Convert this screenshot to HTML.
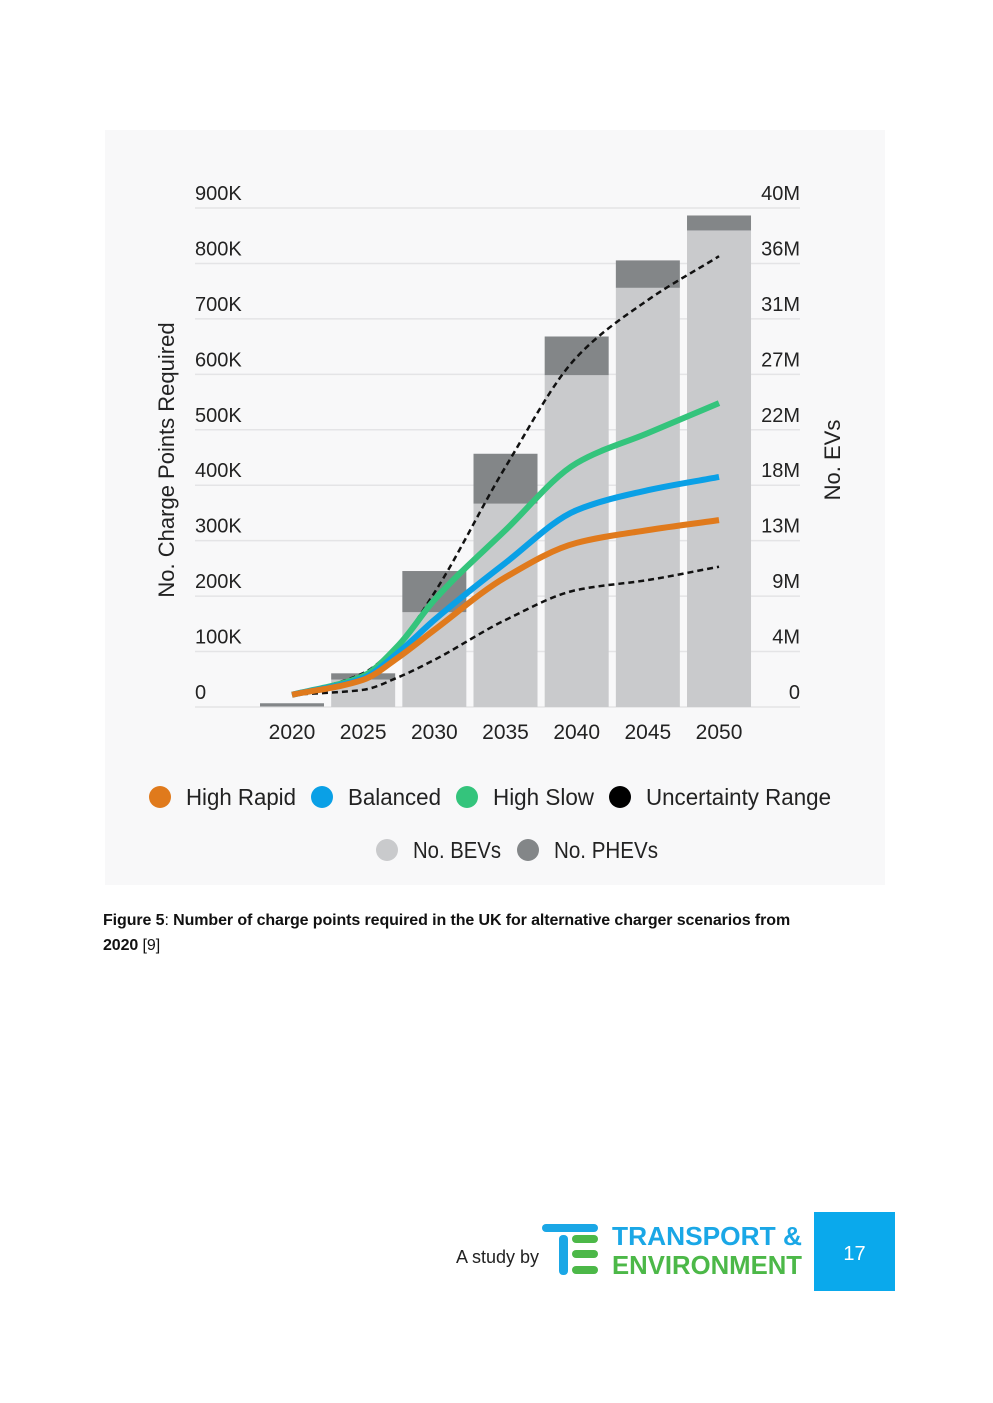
<!DOCTYPE html>
<html><head><meta charset="utf-8"><style>
body{margin:0;background:#fff;font-family:"Liberation Sans",sans-serif;}
#page{position:relative;width:993px;height:1403px;overflow:hidden;background:#fff;}
.cap{position:absolute;left:103px;top:908px;font-size:16px;line-height:25px;color:#111;width:725px;letter-spacing:-0.1px;}
</style></head><body>
<div id="page">
<svg id="chart" width="993" height="900" style="position:absolute;left:0;top:0" font-family="Liberation Sans, sans-serif"></svg>
<div class="cap"><b>Figure 5</b>: <b>Number of charge points required in the UK for alternative charger scenarios from 2020</b> [9]</div>
<div style="position:absolute;left:456px;top:1247px;font-size:18px;color:#222">A study by</div>
<svg style="position:absolute;left:540px;top:1218px" width="270" height="64">
<rect x="2" y="6" width="56" height="8" rx="4" fill="#1aa7e6"/>
<rect x="19" y="17" width="9" height="40" rx="4" fill="#1aa7e6"/>
<rect x="32" y="17" width="26" height="8" rx="4" fill="#4cb848"/>
<rect x="32" y="32" width="26" height="8" rx="4" fill="#4cb848"/>
<rect x="32" y="48" width="26" height="8" rx="4" fill="#4cb848"/>
<text x="72" y="27" font-size="26" font-weight="bold" fill="#1aa7e6" font-family="Liberation Sans, sans-serif" textLength="190" lengthAdjust="spacingAndGlyphs">TRANSPORT &amp;</text>
<text x="72" y="56" font-size="26" font-weight="bold" fill="#4cb848" font-family="Liberation Sans, sans-serif" textLength="190" lengthAdjust="spacingAndGlyphs">ENVIRONMENT</text>
</svg>
<div style="position:absolute;left:814px;top:1212px;width:81px;height:79px;background:#0aa9ec;color:#fff;font-size:20px;text-align:center;line-height:84px">17</div>
</div>
<script>
const years=[2020,2025,2030,2035,2040,2045,2050];
const bevs=[0.05,2.2,7.6,16.3,26.6,33.6,38.2];
const phevs=[0.25,0.5,3.3,4.0,3.1,2.2,1.2];
const lineYears=[2020,2025,2027.5,2030,2035,2040,2045,2050];
const highRapid=[22,49,90,139,234,296,319,337];
const balanced=[22,52,99,157,260,355,391,415];
const highSlow=[22,56,112,193,319,440,494,548];
const upperRange=[22,61,115,206,433,631,734,813];
const lowerRange=[22,31,54,85,157,211,229,253];
const leftTicks=["0","100K","200K","300K","400K","500K","600K","700K","800K","900K"];
const rightTicks=["0","4M","9M","13M","18M","22M","27M","31M","36M","40M"];
const NS="http://www.w3.org/2000/svg";
const svg=document.getElementById('chart');
function mk(t,a,p){const e=document.createElementNS(NS,t);for(const k in a)e.setAttribute(k,a[k]);(p||svg).appendChild(e);return e;}
const y0=707,y1=208;
const yL=v=>y0-(v/900)*(y0-y1);
const yR=v=>y0-(v/40)*(y0-y1);
const xC=yr=>292+(yr-2020)/5*71.17;
const bg=mk('rect',{x:105,y:130,width:780,height:755,fill:'#f8f8f9'});

leftTicks.forEach((t,i)=>{const y=y0-i*(y0-y1)/9;
 const g=mk('line',{x1:195,x2:800,y1:y,y2:y,stroke:'#e4e4e6','stroke-width':1.5});
 
 const l=mk('text',{x:195,y:y-8,'font-size':20,fill:'#222'});l.textContent=t;
 
 const r=mk('text',{x:800,y:y-8,'font-size':20,fill:'#222','text-anchor':'end'});r.textContent=rightTicks[i];
 });
years.forEach((yr,i)=>{const x=xC(yr)-32;
 const b=mk('rect',{x:x,y:yR(bevs[i]),width:64,height:y0-yR(bevs[i]),fill:'#c9cacc'});
 
 const p=mk('rect',{x:x,y:yR(bevs[i]+phevs[i]),width:64,height:yR(bevs[i])-yR(bevs[i]+phevs[i]),fill:'#838688'});
 
 const t=mk('text',{x:xC(yr),y:739,'font-size':21,fill:'#222','text-anchor':'middle'});t.textContent=yr;
 });
function pathOf(vals){const pts=lineYears.map((yr,i)=>[xC(yr),yL(vals[i])]);
 const n=pts.length,d=[],m=[];
 for(let i=0;i<n-1;i++)d.push((pts[i+1][1]-pts[i][1])/(pts[i+1][0]-pts[i][0]));
 m[0]=d[0];m[n-1]=d[n-2];
 for(let i=1;i<n-1;i++){if(d[i-1]*d[i]<=0)m[i]=0;else{const h0=pts[i][0]-pts[i-1][0],h1=pts[i+1][0]-pts[i][0];m[i]=(h0+h1)/((2*h1+h0)/(3*d[i-1])+(h1+2*h0)/(3*d[i]));}}
 let s='M'+pts[0][0]+','+pts[0][1];
 for(let i=0;i<n-1;i++){const h=(pts[i+1][0]-pts[i][0])/3;
  s+=' C'+(pts[i][0]+h)+','+(pts[i][1]+m[i]*h)+' '+(pts[i+1][0]-h)+','+(pts[i+1][1]-m[i+1]*h)+' '+pts[i+1][0]+','+pts[i+1][1];}
 return s;}
const series=[[lowerRange,'#111',2.5,'6 4','lower-uncertainty-line'],[upperRange,'#111',2.5,'6 4','upper-uncertainty-line'],[highSlow,'#34c47c',6,'','high-slow-line'],[balanced,'#0aa0e6',6,'','balanced-line'],[highRapid,'#e07a1c',6,'','high-rapid-line']];
series.forEach(s=>{const a={d:pathOf(s[0]),fill:'none',stroke:s[1],'stroke-width':s[2]};if(s[3])a['stroke-dasharray']=s[3];
 const p=mk('path',a);});
const yt=mk('text',{x:0,y:0,'font-size':22,fill:'#222','text-anchor':'middle',transform:'translate(174,460) rotate(-90)'});yt.textContent='No. Charge Points Required';

const yt2=mk('text',{x:0,y:0,'font-size':22,fill:'#222','text-anchor':'middle',transform:'translate(840,460) rotate(-90)'});yt2.textContent='No. EVs';

const leg=[[160,797,'#e07a1c','High Rapid',110],[322,797,'#0aa0e6','Balanced',93],[467,797,'#34c47c','High Slow',101],[620,797,'#000','Uncertainty Range',185],[387,850,'#c9cacc','No. BEVs',88],[528,850,'#838688','No. PHEVs',104]];
leg.forEach(l=>{const c=mk('circle',{cx:l[0],cy:l[1],r:11,fill:l[2]});
 
 const t=mk('text',{x:l[0]+26,y:l[1]+8,'font-size':23,fill:'#222',textLength:l[4],lengthAdjust:'spacingAndGlyphs'});t.textContent=l[3];
 });
</script>
</body></html>
